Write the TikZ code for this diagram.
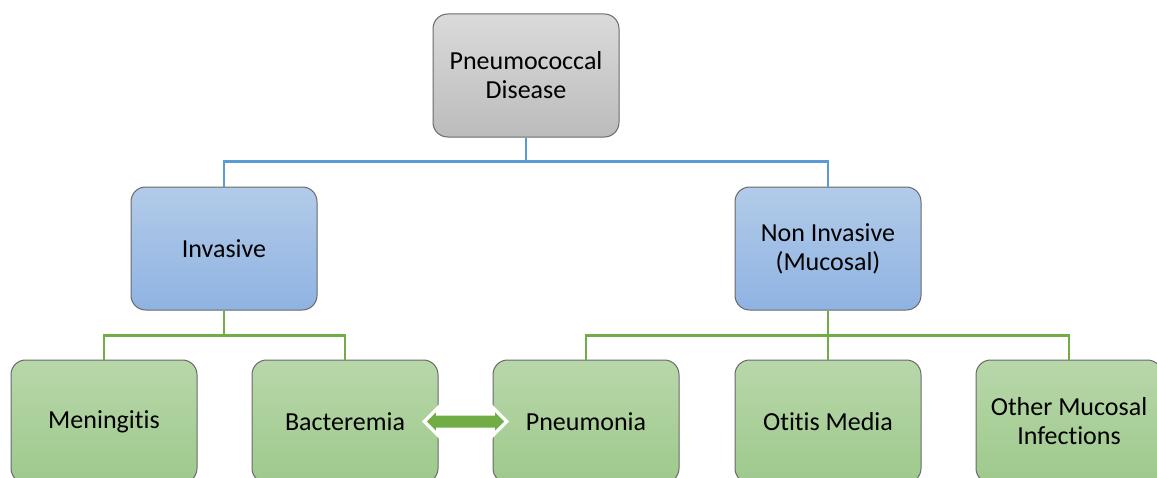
\documentclass[tikz,border=0pt]{standalone}
\usepackage{fontspec}
\setmainfont{Carlito}[Ligatures=CommonOff]
\usetikzlibrary{shapes.arrows,calc}
\definecolor{linkblue}{RGB}{91,155,213}
\definecolor{linkgreen}{RGB}{112,173,71}
\definecolor{boxline}{RGB}{105,105,105}
\tikzset{
  box/.style={draw=boxline, line width=0.75pt, rounded corners=11pt, align=center,
    minimum width=139.5pt, minimum height=92.25pt, inner sep=2pt,
    font=\fontsize{19.5}{21.75}\selectfont},
  rootbox/.style={box, top color={rgb,255:red,218;green,218;blue,218}, bottom color={rgb,255:red,188;green,188;blue,188}},
  midbox/.style={box, top color={rgb,255:red,178;green,203;blue,233}, bottom color={rgb,255:red,143;green,179;blue,226}},
  leafbox/.style={box, top color={rgb,255:red,184;green,215;blue,170}, bottom color={rgb,255:red,158;green,201;blue,139}},
  bluelink/.style={draw=linkblue, line width=1.9pt},
  greenlink/.style={draw=linkgreen, line width=1.9pt}
}
\begin{document}
\begin{tikzpicture}[x=0.75pt,y=0.75pt,yscale=-1,xscale=1]
\useasboundingbox (0,0) rectangle (1157,478);
\clip (0,0) rectangle (1157,478);
% boxes
\node [rootbox] (disease) at (526,75.5) {Pneumococcal\\Disease};
\node [midbox] (invasive) at (224,248.5) {Invasive};
\node [midbox] (noninvasive) at (828,248.5) {Non Invasive\\(Mucosal)};
\node [leafbox] (meningitis) at (104,421.5) {Meningitis};
\node [leafbox] (bacteremia) at (345,421.5) {Bacteremia};
\node [leafbox] (pneumonia) at (586,421.5) {Pneumonia};
\node [leafbox] (otitis) at (828,421.5) {Otitis Media};
\node [leafbox] (othermucosal) at (1069,421.5) {Other Mucosal\\Infections};
% links
\draw [bluelink] (disease.south) -- ++(0,24) -| (invasive.north);
\draw [bluelink] (disease.south) -- ++(0,24) -| (noninvasive.north);
\draw [greenlink] (invasive.south) -- ++(0,25) -| (meningitis.north);
\draw [greenlink] (invasive.south) -- ++(0,25) -| (bacteremia.north);
\draw [greenlink] (noninvasive.south) -- (otitis.north);
\draw [greenlink] (noninvasive.south) -- ++(0,25) -| (pneumonia.north);
\draw [greenlink] (noninvasive.south) -- ++(0,25) -| (othermucosal.north);
% double arrow
\node [double arrow, fill=linkgreen, draw=white, line width=2.5pt, inner sep=4.5pt,
  minimum height=62pt, double arrow head extend=4.5pt]
  (bactpneu) at ($(bacteremia.east)!0.5!(pneumonia.west)$) {};
\end{tikzpicture}
\end{document}
